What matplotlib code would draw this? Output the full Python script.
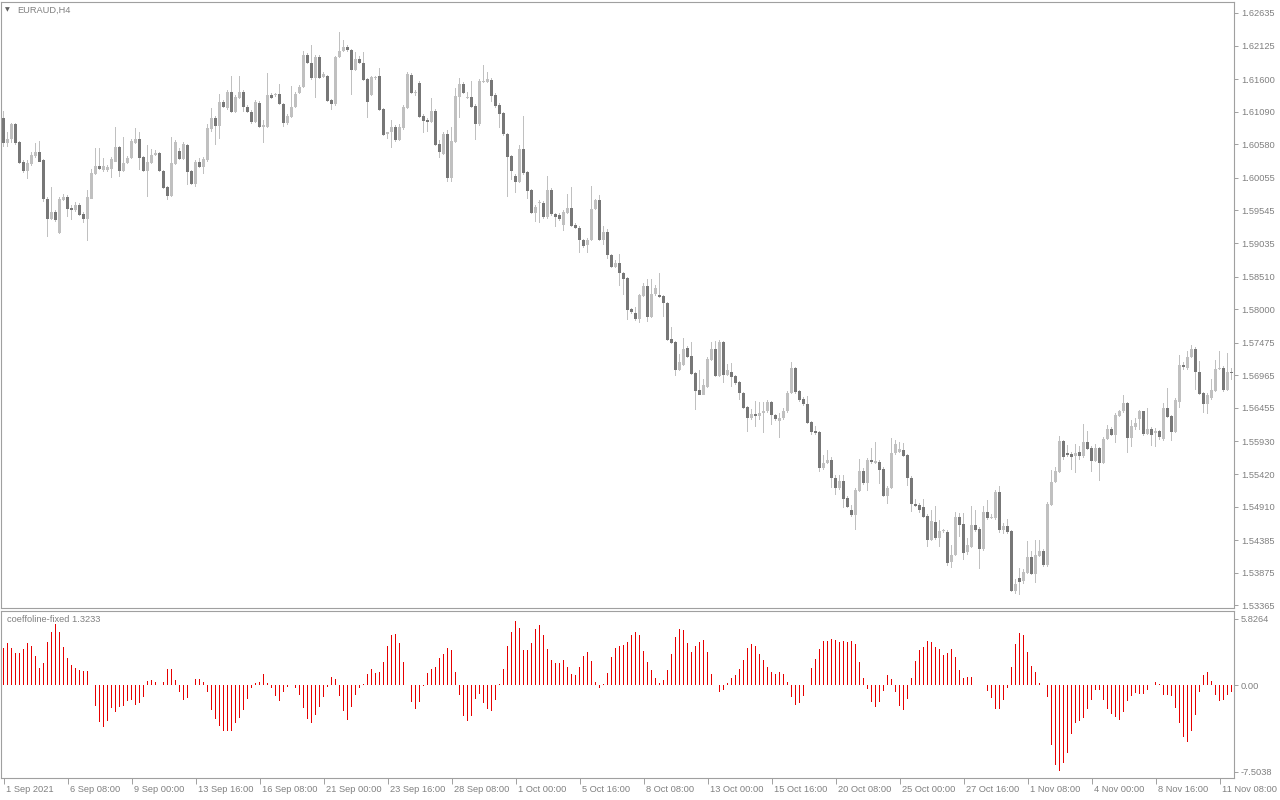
import numpy as np
import matplotlib.pyplot as plt

plt.rcParams['font.family'] = ['Liberation Sans', 'DejaVu Sans']

# EURAUD H4 candles
opens = [
    1.6099, 1.6060, 1.6067, 1.6090, 1.6062, 1.6030, 1.6016, 1.6027, 1.6040, 1.6046,
    1.6033, 1.5973, 1.5941, 1.5952, 1.5919, 1.5971, 1.5975, 1.5958, 1.5955, 1.5963,
    1.5949, 1.5941, 1.5973, 1.6012, 1.6024, 1.6018, 1.6018, 1.6019, 1.6031, 1.6054,
    1.6016, 1.6028, 1.6036, 1.6060, 1.6066, 1.6038, 1.6016, 1.6028, 1.6041, 1.6044,
    1.6016, 1.5991, 1.5977, 1.6027, 1.6047, 1.6035, 1.6057, 1.6016, 1.5996, 1.6030,
    1.6022, 1.6033, 1.6082, 1.6099, 1.6086, 1.6124, 1.6115, 1.6140, 1.6109, 1.6131,
    1.6140, 1.6116, 1.6109, 1.6093, 1.6122, 1.6085, 1.6085, 1.6135, 1.6135, 1.6137,
    1.6121, 1.6091, 1.6101, 1.6116, 1.6138, 1.6148, 1.6198, 1.6185, 1.6162, 1.6195,
    1.6163, 1.6165, 1.6127, 1.6121, 1.6195, 1.6204, 1.6210, 1.6206, 1.6174, 1.6192,
    1.6185, 1.6160, 1.6135, 1.6162, 1.6165, 1.6113, 1.6074, 1.6077, 1.6085, 1.6065,
    1.6083, 1.6115, 1.6166, 1.6138, 1.6154, 1.6102, 1.6096, 1.6093, 1.6110, 1.6059,
    1.6043, 1.6074, 1.6005, 1.6062, 1.6132, 1.6153, 1.6131, 1.6132, 1.6118, 1.6090,
    1.6156, 1.6156, 1.6159, 1.6135, 1.6119, 1.6107, 1.6074, 1.6040, 1.6008, 1.5999,
    1.6051, 1.6015, 1.5986, 1.5950, 1.5966, 1.5966, 1.5944, 1.5986, 1.5949, 1.5947,
    1.5932, 1.5950, 1.5958, 1.5932, 1.5927, 1.5908, 1.5901, 1.5908, 1.5957, 1.5971,
    1.5908, 1.5921, 1.5885, 1.5866, 1.5872, 1.5856, 1.5849, 1.5800, 1.5794, 1.5785,
    1.5821, 1.5837, 1.5788, 1.5824, 1.5822, 1.5821, 1.5810, 1.5753, 1.5749, 1.5705,
    1.5713, 1.5739, 1.5727, 1.5700, 1.5674, 1.5666, 1.5678, 1.5720, 1.5738, 1.5696,
    1.5749, 1.5697, 1.5702, 1.5696, 1.5686, 1.5669, 1.5647, 1.5630, 1.5636, 1.5633,
    1.5638, 1.5640, 1.5655, 1.5635, 1.5625, 1.5630, 1.5640, 1.5669, 1.5708, 1.5672,
    1.5660, 1.5652, 1.5624, 1.5609, 1.5608, 1.5551, 1.5559, 1.5564, 1.5536, 1.5520,
    1.5531, 1.5505, 1.5486, 1.5478, 1.5515, 1.5547, 1.5528, 1.5564, 1.5559, 1.5561,
    1.5550, 1.5508, 1.5520, 1.5575, 1.5577, 1.5580, 1.5572, 1.5536, 1.5495, 1.5493,
    1.5490, 1.5476, 1.5439, 1.5467, 1.5442, 1.5453, 1.5451, 1.5404, 1.5415, 1.5475,
    1.5464, 1.5420, 1.5428, 1.5462, 1.5456, 1.5425, 1.5483, 1.5473, 1.5473, 1.5514,
    1.5454, 1.5461, 1.5453, 1.5359, 1.5379, 1.5375, 1.5387, 1.5412, 1.5386, 1.5414,
    1.5422, 1.5400, 1.5493, 1.5530, 1.5545, 1.5594, 1.5575, 1.5573, 1.5570, 1.5577,
    1.5570, 1.5592, 1.5583, 1.5563, 1.5583, 1.5559, 1.5597, 1.5612, 1.5603, 1.5633,
    1.5640, 1.5653, 1.5598, 1.5616, 1.5628, 1.5640, 1.5605, 1.5612, 1.5606, 1.5609,
    1.5597, 1.5645, 1.5633, 1.5608, 1.5655, 1.5713, 1.5708, 1.5725, 1.5738, 1.5702,
    1.5669, 1.5652, 1.5661, 1.5672, 1.5706, 1.5708, 1.5674, 1.5702,
]
closes = [
    1.6060, 1.6067, 1.6090, 1.6060, 1.6028, 1.6016, 1.6028, 1.6041, 1.6046, 1.6031,
    1.5972, 1.5941, 1.5952, 1.5940, 1.5972, 1.5975, 1.5957, 1.5955, 1.5963, 1.5947,
    1.5941, 1.5975, 1.6013, 1.6024, 1.6019, 1.6024, 1.6022, 1.6035, 1.6054, 1.6016,
    1.6028, 1.6036, 1.6063, 1.6066, 1.6036, 1.6016, 1.6030, 1.6041, 1.6044, 1.6016,
    1.5989, 1.5977, 1.6028, 1.6062, 1.6035, 1.6059, 1.6015, 1.5996, 1.6030, 1.6022,
    1.6035, 1.6083, 1.6099, 1.6086, 1.6124, 1.6116, 1.6140, 1.6109, 1.6132, 1.6140,
    1.6116, 1.6109, 1.6093, 1.6124, 1.6085, 1.6088, 1.6135, 1.6131, 1.6137, 1.6121,
    1.6091, 1.6102, 1.6116, 1.6137, 1.6148, 1.6198, 1.6185, 1.6162, 1.6195, 1.6162,
    1.6168, 1.6126, 1.6121, 1.6195, 1.6204, 1.6210, 1.6206, 1.6174, 1.6192, 1.6185,
    1.6159, 1.6124, 1.6163, 1.6163, 1.6112, 1.6072, 1.6077, 1.6085, 1.6065, 1.6085,
    1.6116, 1.6168, 1.6138, 1.6139, 1.6101, 1.6094, 1.6093, 1.6110, 1.6057, 1.6046,
    1.6074, 1.6005, 1.6063, 1.6134, 1.6153, 1.6138, 1.6132, 1.6116, 1.6090, 1.6157,
    1.6157, 1.6160, 1.6134, 1.6118, 1.6105, 1.6074, 1.6038, 1.6016, 1.5999, 1.6051,
    1.6013, 1.5985, 1.5950, 1.5960, 1.5967, 1.5944, 1.5986, 1.5949, 1.5944, 1.5941,
    1.5952, 1.5958, 1.5930, 1.5927, 1.5908, 1.5899, 1.5908, 1.5957, 1.5971, 1.5908,
    1.5921, 1.5885, 1.5866, 1.5872, 1.5856, 1.5847, 1.5799, 1.5796, 1.5785, 1.5822,
    1.5837, 1.5788, 1.5824, 1.5833, 1.5819, 1.5810, 1.5752, 1.5747, 1.5705, 1.5717,
    1.5738, 1.5725, 1.5699, 1.5672, 1.5666, 1.5681, 1.5722, 1.5738, 1.5696, 1.5749,
    1.5697, 1.5705, 1.5694, 1.5684, 1.5669, 1.5645, 1.5630, 1.5636, 1.5633, 1.5638,
    1.5640, 1.5655, 1.5635, 1.5628, 1.5630, 1.5641, 1.5669, 1.5708, 1.5671, 1.5658,
    1.5652, 1.5622, 1.5608, 1.5606, 1.5551, 1.5559, 1.5564, 1.5536, 1.5520, 1.5531,
    1.5503, 1.5490, 1.5478, 1.5517, 1.5547, 1.5528, 1.5564, 1.5561, 1.5563, 1.5548,
    1.5508, 1.5520, 1.5575, 1.5589, 1.5581, 1.5570, 1.5536, 1.5495, 1.5492, 1.5486,
    1.5475, 1.5439, 1.5469, 1.5442, 1.5453, 1.5454, 1.5403, 1.5415, 1.5475, 1.5462,
    1.5418, 1.5431, 1.5462, 1.5454, 1.5425, 1.5483, 1.5473, 1.5475, 1.5514, 1.5454,
    1.5461, 1.5451, 1.5359, 1.5370, 1.5373, 1.5389, 1.5412, 1.5386, 1.5415, 1.5422,
    1.5400, 1.5495, 1.5530, 1.5547, 1.5594, 1.5569, 1.5572, 1.5569, 1.5575, 1.5570,
    1.5592, 1.5581, 1.5563, 1.5583, 1.5559, 1.5597, 1.5612, 1.5603, 1.5635, 1.5640,
    1.5653, 1.5598, 1.5617, 1.5622, 1.5640, 1.5605, 1.5612, 1.5603, 1.5609, 1.5600,
    1.5645, 1.5631, 1.5608, 1.5658, 1.5713, 1.5709, 1.5725, 1.5738, 1.5702, 1.5667,
    1.5652, 1.5665, 1.5674, 1.5706, 1.5708, 1.5674, 1.5702, 1.5700,
]
highs = [
    1.6110, 1.6077, 1.6091, 1.6091, 1.6063, 1.6033, 1.6033, 1.6046, 1.6060, 1.6063,
    1.6035, 1.5975, 1.5991, 1.5955, 1.5975, 1.5980, 1.5978, 1.5963, 1.5968, 1.5966,
    1.5952, 1.5986, 1.6019, 1.6052, 1.6052, 1.6036, 1.6025, 1.6038, 1.6085, 1.6056,
    1.6069, 1.6040, 1.6067, 1.6083, 1.6078, 1.6040, 1.6057, 1.6050, 1.6049, 1.6046,
    1.6018, 1.5993, 1.6069, 1.6065, 1.6052, 1.6062, 1.6059, 1.6018, 1.6033, 1.6036,
    1.6038, 1.6090, 1.6115, 1.6102, 1.6137, 1.6127, 1.6143, 1.6165, 1.6135, 1.6165,
    1.6143, 1.6119, 1.6112, 1.6127, 1.6126, 1.6096, 1.6169, 1.6138, 1.6138, 1.6153,
    1.6122, 1.6105, 1.6150, 1.6140, 1.6151, 1.6204, 1.6201, 1.6213, 1.6198, 1.6198,
    1.6171, 1.6166, 1.6129, 1.6196, 1.6234, 1.6221, 1.6213, 1.6207, 1.6203, 1.6196,
    1.6203, 1.6162, 1.6165, 1.6165, 1.6177, 1.6115, 1.6078, 1.6096, 1.6088, 1.6090,
    1.6119, 1.6171, 1.6169, 1.6143, 1.6157, 1.6105, 1.6099, 1.6131, 1.6113, 1.6065,
    1.6078, 1.6080, 1.6085, 1.6146, 1.6162, 1.6156, 1.6140, 1.6157, 1.6121, 1.6160,
    1.6182, 1.6171, 1.6162, 1.6138, 1.6122, 1.6109, 1.6075, 1.6041, 1.6011, 1.6057,
    1.6102, 1.6016, 1.5988, 1.5963, 1.5971, 1.5969, 1.6008, 1.5989, 1.5950, 1.5950,
    1.5955, 1.5980, 1.5991, 1.5935, 1.5930, 1.5910, 1.5911, 1.5993, 1.5973, 1.5978,
    1.5930, 1.5925, 1.5887, 1.5877, 1.5887, 1.5858, 1.5851, 1.5802, 1.5803, 1.5824,
    1.5841, 1.5847, 1.5847, 1.5838, 1.5856, 1.5822, 1.5811, 1.5772, 1.5750, 1.5730,
    1.5755, 1.5742, 1.5749, 1.5702, 1.5705, 1.5691, 1.5725, 1.5749, 1.5750, 1.5752,
    1.5750, 1.5714, 1.5716, 1.5697, 1.5688, 1.5671, 1.5649, 1.5644, 1.5656, 1.5655,
    1.5655, 1.5658, 1.5656, 1.5636, 1.5638, 1.5645, 1.5672, 1.5717, 1.5709, 1.5674,
    1.5663, 1.5664, 1.5625, 1.5617, 1.5609, 1.5572, 1.5580, 1.5569, 1.5541, 1.5541,
    1.5541, 1.5508, 1.5494, 1.5520, 1.5566, 1.5551, 1.5567, 1.5583, 1.5592, 1.5564,
    1.5553, 1.5523, 1.5598, 1.5595, 1.5592, 1.5591, 1.5573, 1.5539, 1.5503, 1.5496,
    1.5503, 1.5480, 1.5486, 1.5492, 1.5470, 1.5456, 1.5454, 1.5431, 1.5483, 1.5481,
    1.5481, 1.5442, 1.5492, 1.5486, 1.5459, 1.5492, 1.5501, 1.5480, 1.5517, 1.5523,
    1.5465, 1.5472, 1.5454, 1.5378, 1.5395, 1.5394, 1.5437, 1.5422, 1.5439, 1.5439,
    1.5425, 1.5498, 1.5548, 1.5553, 1.5602, 1.5595, 1.5587, 1.5577, 1.5589, 1.5586,
    1.5620, 1.5609, 1.5586, 1.5589, 1.5584, 1.5600, 1.5619, 1.5616, 1.5638, 1.5642,
    1.5666, 1.5655, 1.5627, 1.5630, 1.5642, 1.5641, 1.5645, 1.5616, 1.5614, 1.5611,
    1.5653, 1.5676, 1.5635, 1.5661, 1.5728, 1.5717, 1.5734, 1.5744, 1.5741, 1.5719,
    1.5671, 1.5669, 1.5691, 1.5720, 1.5734, 1.5711, 1.5731, 1.5708,
]
lows = [
    1.6054, 1.6054, 1.6060, 1.6057, 1.6027, 1.6013, 1.6004, 1.6024, 1.6036, 1.6030,
    1.5968, 1.5913, 1.5940, 1.5937, 1.5918, 1.5969, 1.5944, 1.5940, 1.5952, 1.5946,
    1.5935, 1.5906, 1.5972, 1.6010, 1.6018, 1.6015, 1.6015, 1.6005, 1.6030, 1.6007,
    1.6015, 1.6027, 1.6035, 1.6059, 1.6018, 1.6015, 1.5975, 1.6027, 1.6040, 1.6015,
    1.5988, 1.5971, 1.5975, 1.6025, 1.6033, 1.6033, 1.5994, 1.5994, 1.5991, 1.6021,
    1.6012, 1.6031, 1.6078, 1.6057, 1.6067, 1.6115, 1.6112, 1.6107, 1.6107, 1.6129,
    1.6109, 1.6107, 1.6090, 1.6091, 1.6083, 1.6060, 1.6083, 1.6129, 1.6132, 1.6119,
    1.6085, 1.6088, 1.6099, 1.6115, 1.6137, 1.6146, 1.6184, 1.6159, 1.6131, 1.6160,
    1.6162, 1.6124, 1.6112, 1.6118, 1.6193, 1.6203, 1.6203, 1.6135, 1.6172, 1.6184,
    1.6157, 1.6099, 1.6134, 1.6159, 1.6110, 1.6071, 1.6067, 1.6052, 1.6062, 1.6063,
    1.6080, 1.6113, 1.6137, 1.6134, 1.6099, 1.6075, 1.6077, 1.6091, 1.6056, 1.6036,
    1.6041, 1.5999, 1.5999, 1.6060, 1.6099, 1.6137, 1.6129, 1.6115, 1.6065, 1.6086,
    1.6154, 1.6154, 1.6124, 1.6115, 1.6083, 1.6071, 1.5975, 1.6002, 1.5981, 1.5997,
    1.6010, 1.5972, 1.5949, 1.5937, 1.5935, 1.5941, 1.5941, 1.5946, 1.5929, 1.5938,
    1.5922, 1.5949, 1.5929, 1.5925, 1.5888, 1.5896, 1.5888, 1.5906, 1.5955, 1.5906,
    1.5901, 1.5879, 1.5864, 1.5864, 1.5837, 1.5822, 1.5783, 1.5793, 1.5782, 1.5778,
    1.5819, 1.5780, 1.5786, 1.5821, 1.5817, 1.5788, 1.5750, 1.5746, 1.5696, 1.5703,
    1.5711, 1.5723, 1.5697, 1.5642, 1.5665, 1.5665, 1.5676, 1.5719, 1.5694, 1.5694,
    1.5684, 1.5696, 1.5678, 1.5681, 1.5658, 1.5644, 1.5608, 1.5627, 1.5616, 1.5627,
    1.5606, 1.5638, 1.5619, 1.5625, 1.5598, 1.5627, 1.5638, 1.5667, 1.5667, 1.5655,
    1.5649, 1.5621, 1.5603, 1.5603, 1.5545, 1.5548, 1.5558, 1.5520, 1.5509, 1.5517,
    1.5489, 1.5489, 1.5475, 1.5454, 1.5514, 1.5525, 1.5515, 1.5558, 1.5558, 1.5526,
    1.5506, 1.5495, 1.5519, 1.5572, 1.5575, 1.5569, 1.5523, 1.5483, 1.5490, 1.5481,
    1.5473, 1.5428, 1.5437, 1.5439, 1.5428, 1.5450, 1.5398, 1.5395, 1.5414, 1.5443,
    1.5407, 1.5415, 1.5426, 1.5451, 1.5393, 1.5422, 1.5470, 1.5472, 1.5470, 1.5450,
    1.5448, 1.5448, 1.5357, 1.5354, 1.5353, 1.5370, 1.5386, 1.5384, 1.5372, 1.5412,
    1.5397, 1.5397, 1.5492, 1.5528, 1.5544, 1.5564, 1.5569, 1.5548, 1.5544, 1.5564,
    1.5567, 1.5580, 1.5545, 1.5561, 1.5531, 1.5558, 1.5595, 1.5601, 1.5590, 1.5631,
    1.5638, 1.5575, 1.5584, 1.5611, 1.5611, 1.5601, 1.5603, 1.5586, 1.5584, 1.5595,
    1.5594, 1.5630, 1.5594, 1.5606, 1.5645, 1.5705, 1.5705, 1.5723, 1.5674, 1.5665,
    1.5638, 1.5636, 1.5658, 1.5671, 1.5705, 1.5671, 1.5672, 1.5689,
]

# coeffoline-fixed histogram, one value per bar
coeff = [
    3.28, 3.72, 3.28, 2.84, 2.84, 3.16, 3.72, 3.45, 2.55, 1.54,
    1.97, 3.80, 4.67, 5.34, 4.67, 3.37, 2.41, 1.77, 1.54, 1.34,
    1.25, 1.25, 0.00, -1.77, -3.16, -3.60, -3.08, -2.00, -2.29, -1.86,
    -1.77, -1.34, -1.28, -1.71, -1.51, -0.99, 0.41, 0.46, 0.32, 0.00,
    0.32, 1.42, 1.42, 0.46, -0.55, -1.28, -1.07, 0.00, 0.55, 0.55,
    0.32, -0.55, -2.15, -2.93, -3.51, -3.95, -3.95, -3.95, -3.31, -2.87,
    -2.15, -1.19, -0.20, 0.23, 0.32, 0.99, 0.23, -0.20, -0.90, -1.34,
    -0.55, -0.17, 0.00, -0.20, -0.84, -1.95, -2.90, -3.25, -2.53, -1.86,
    -0.99, -0.12, 0.75, 0.55, -0.90, -2.21, -3.02, -1.86, -0.84, -0.26,
    0.09, 0.99, 1.42, 1.10, 1.19, 2.06, 3.45, 4.38, 4.47, 3.72,
    2.06, 0.03, -1.48, -2.06, -1.42, -0.06, 1.10, 1.42, 1.63, 2.41,
    2.73, 3.28, 3.08, 1.19, -0.84, -2.67, -3.11, -2.67, -1.19, -0.75,
    -1.51, -2.06, -2.24, -1.28, 0.15, 1.42, 3.43, 4.64, 5.60, 4.99,
    3.08, 3.08, 3.72, 4.91, 5.25, 4.38, 3.16, 2.21, 1.97, 1.97,
    2.21, 1.63, 0.99, 0.90, 1.63, 2.55, 2.90, 2.12, 0.32, -0.20,
    0.15, 1.10, 2.47, 3.28, 3.45, 3.54, 3.80, 4.38, 4.64, 4.38,
    2.99, 2.03, 1.34, 0.64, 0.23, 0.46, 1.34, 2.73, 4.21, 4.91,
    4.82, 3.69, 2.90, 3.43, 3.77, 3.95, 2.90, 0.99, 0.00, -0.55,
    -0.41, 0.20, 0.64, 0.90, 1.42, 2.21, 3.25, 3.60, 3.43, 2.73,
    2.21, 1.60, 1.16, 0.99, 1.16, 0.99, 0.29, -0.99, -1.71, -1.51,
    -0.90, 0.06, 1.51, 2.29, 3.16, 3.86, 3.86, 4.04, 3.95, 3.77,
    3.86, 3.77, 3.86, 3.60, 2.03, 0.64, -0.32, -1.42, -1.86, -1.42,
    -0.46, 0.90, 0.55, -0.55, -1.77, -2.15, -1.19, 0.64, 2.12, 3.08,
    3.34, 3.86, 3.77, 3.34, 3.16, 2.64, 2.82, 3.16, 2.47, 1.34,
    0.64, 0.73, 0.73, 0.03, 0.03, 0.03, -0.46, -1.07, -2.06, -2.06,
    -1.25, -0.20, 1.60, 3.60, 4.56, 4.38, 2.90, 1.68, 1.16, 0.20,
    0.03, -0.99, -5.20, -6.94, -7.43, -6.74, -5.86, -4.21, -3.25, -3.08,
    -2.82, -2.06, -1.25, -0.41, -0.41, -1.25, -2.06, -2.47, -2.73, -3.00,
    -2.29, -1.34, -0.90, -0.64, -0.73, -0.73, -0.41, 0.03, 0.32, 0.12,
    -0.82, -0.82, -0.90, -1.95, -3.25, -4.47, -4.91, -3.95, -2.55, -0.55,
    0.90, 1.16, 0.38, -0.82, -1.34, -1.25, -0.82, -0.60,
]

date_labels = ['1 Sep 2021', '6 Sep 08:00', '9 Sep 00:00', '13 Sep 16:00', '16 Sep 08:00',
               '21 Sep 00:00', '23 Sep 16:00', '28 Sep 08:00', '1 Oct 00:00', '5 Oct 16:00',
               '8 Oct 08:00', '13 Oct 00:00', '15 Oct 16:00', '20 Oct 08:00', '25 Oct 00:00',
               '27 Oct 16:00', '1 Nov 08:00', '4 Nov 00:00', '8 Nov 16:00', '11 Nov 08:00']
price_ticks = [1.62635, 1.62125, 1.61600, 1.61090, 1.60580, 1.60055, 1.59545, 1.59035,
               1.58510, 1.58000, 1.57475, 1.56965, 1.56455, 1.55930, 1.55420, 1.54910,
               1.54385, 1.53875, 1.53365]
coeff_ticks = [5.8264, 0.0, -7.5038]
coeff_tick_labels = ['5.8264', '0.00', '-7.5038']

bull_col = '#c0c0c0'
bear_col = '#777777'
wick_col = '#c0c0c0'
hist_col = '#e60000'
frame_col = '#a0a0a0'
text_col = '#808080'
fs = 6.7

W, H = 1280, 800
n = len(closes)
fig = plt.figure(figsize=(W / 100, H / 100), dpi=100)
# 4 px per bar, bar centres on pixel centres
ax = fig.add_axes([1 / W, 1 - 608 / H, 1233 / W, 606 / H])
ax2 = fig.add_axes([1 / W, 1 - 778 / H, 1233 / W, 167 / H])
xl = (-0.625, n - 0.375)

x = np.arange(n)
o = np.array(opens)
c = np.array(closes)
up = c >= o

ax.bar(x, np.array(highs) - np.array(lows), bottom=lows, width=0.25, color=wick_col,
       linewidth=0, antialiased=False, zorder=1)
ax.bar(x, np.maximum(np.abs(c - o), 0.00016), bottom=np.minimum(o, c), width=0.75,
       color=np.where(up, bull_col, bear_col), linewidth=0, antialiased=False, zorder=2)
ax.set_xlim(*xl)
ax.set_ylim(1.53323, 1.62807)

ax2.bar(x, coeff, width=0.25, color=hist_col, linewidth=0, antialiased=False)
ax2.set_xlim(*xl)
ax2.set_ylim(-8.06, 6.49)

for a in (ax, ax2):
    a.yaxis.tick_right()
    for s in a.spines.values():
        s.set_color(frame_col)
        s.set_linewidth(0.8)
    a.tick_params(axis='y', length=3, width=0.7, color=frame_col, labelcolor=text_col,
                  labelsize=fs, pad=2)

ax.set_yticks(price_ticks)
ax.set_yticklabels(['%.5f' % v for v in price_ticks])
ax.set_xticks([])

ax2.set_yticks(coeff_ticks)
ax2.set_yticklabels(coeff_tick_labels)
tick_pos = list(range(0, n, 16))
ax2.set_xticks(tick_pos)
ax2.tick_params(axis='x', length=4, width=0.7, color=frame_col, labelbottom=False)
for p, lbl in zip(tick_pos, date_labels):
    ax2.annotate(lbl, xy=(p, 0), xycoords=('data', 'axes fraction'), xytext=(2, -11),
                 textcoords='offset pixels', ha='left', va='center', fontsize=fs, color=text_col)

fig.text(5 / W, 1 - 10 / H, '\u25bc', fontsize=4.5, color='#606060', va='center',
         family=['DejaVu Sans'])
fig.text(17 / W, 1 - 10 / H, 'EURAUD,H4', fontsize=fs, color=text_col, va='center')
fig.text(7 / W, 1 - 620 / H, 'coeffoline-fixed 1.3233', fontsize=fs, color=text_col, va='center')

fig.savefig('out.png', dpi=100)
